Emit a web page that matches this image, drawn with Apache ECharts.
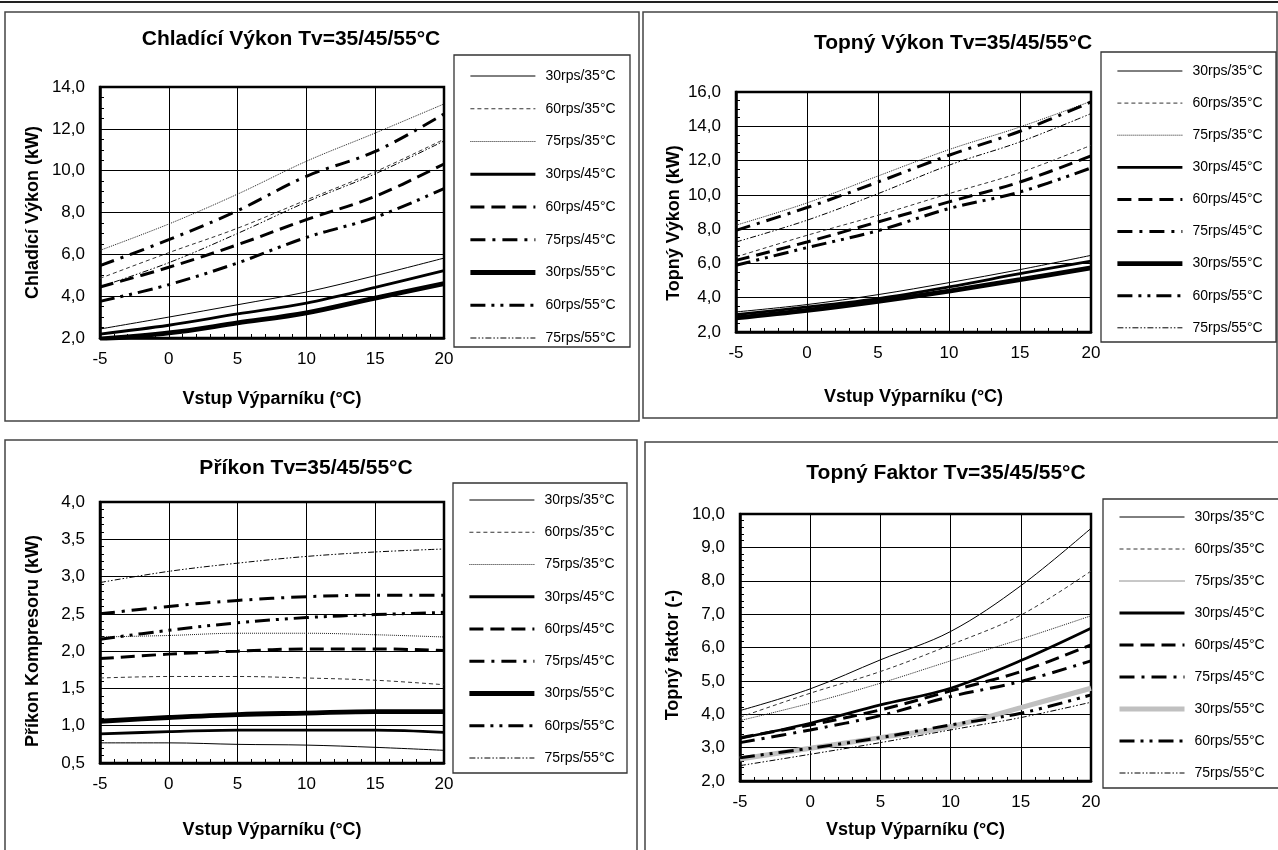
<!DOCTYPE html>
<html><head><meta charset="utf-8">
<script src="https://cdn.jsdelivr.net/npm/echarts@6/dist/echarts.min.js"></script>
<style>
html,body{margin:0;padding:0;background:#fff;}
.c{position:absolute;left:0;top:0;width:1278px;height:850px;}
</style></head><body>
<div id="c1" class="c"></div>
<div id="c2" class="c"></div>
<div id="c3" class="c"></div>
<div id="c4" class="c"></div>
<script>
// ---------- DATA ----------
const xTemps = [-5, 0, 5, 10, 15, 20];
const legendNames = ['30rps/35°C','60rps/35°C','75rps/35°C','30rps/45°C','60rps/45°C','75rps/45°C','30rps/55°C','60rps/55°C','75rps/55°C'];

// Chladící výkon (kW)
const chl30_35 = [2.43, 3.00, 3.59, 4.20, 4.98, 5.82];
const chl60_35 = [4.85, 6.08, 7.25, 8.60, 9.95, 11.50];
const chl75_35 = [6.19, 7.45, 8.88, 10.45, 11.80, 13.19];
const chl30_45 = [2.19, 2.61, 3.15, 3.67, 4.42, 5.22];
const chl60_45 = [4.44, 5.38, 6.46, 7.66, 8.77, 10.32];
const chl75_45 = [5.46, 6.70, 8.09, 9.73, 10.92, 12.71];
const chl30_55 = [1.95, 2.24, 2.72, 3.20, 3.91, 4.60];
const chl60_55 = [3.75, 4.55, 5.59, 6.81, 7.77, 9.14];
const chl75_55 = [4.45, 5.60, 7.00, 8.50, 9.85, 11.42];

// Topný výkon (kW)
const top30_35 = [3.17, 3.60, 4.18, 4.88, 5.64, 6.47];
const top60_35 = [6.38, 7.64, 8.81, 10.07, 11.30, 12.89];
const top75_35 = [8.23, 9.53, 11.10, 12.64, 13.96, 15.46];
const top30_45 = [3.01, 3.46, 3.95, 4.63, 5.40, 6.14];
const top60_45 = [6.18, 7.25, 8.42, 9.59, 10.75, 12.27];
const top75_45 = [7.93, 9.26, 10.75, 12.31, 13.71, 15.42];
const top30_55 = [2.82, 3.26, 3.79, 4.39, 5.05, 5.74];
const top60_55 = [5.89, 6.92, 7.91, 9.20, 10.17, 11.57];
const top75_55 = [7.25, 8.52, 10.07, 11.73, 13.09, 14.74];

// Příkon kompresoru (kW)
const pri30_35 = [0.77, 0.77, 0.75, 0.74, 0.71, 0.67];
const pri60_35 = [1.64, 1.66, 1.66, 1.64, 1.61, 1.55];
const pri75_35 = [2.19, 2.21, 2.24, 2.24, 2.22, 2.19];
const pri30_45 = [0.89, 0.92, 0.94, 0.94, 0.94, 0.91];
const pri60_45 = [1.90, 1.96, 2.00, 2.03, 2.03, 2.01];
const pri75_45 = [2.50, 2.60, 2.68, 2.73, 2.75, 2.75];
const pri30_55 = [1.06, 1.11, 1.15, 1.17, 1.19, 1.19];
const pri60_55 = [2.16, 2.28, 2.38, 2.45, 2.49, 2.52];
const pri75_55 = [2.92, 3.07, 3.18, 3.27, 3.33, 3.37];

// Topný faktor (-)
const fak30_35 = [4.11, 4.76, 5.63, 6.48, 7.85, 9.57];
const fak60_35 = [3.91, 4.63, 5.28, 6.08, 6.97, 8.29];
const fak75_35 = [3.81, 4.33, 4.93, 5.60, 6.25, 6.95];
const fak30_45 = [3.28, 3.73, 4.28, 4.78, 5.61, 6.58];
const fak60_45 = [3.30, 3.68, 4.13, 4.70, 5.28, 6.08];
const fak75_45 = [3.15, 3.53, 3.96, 4.53, 4.98, 5.60];
const fak30_55 = [2.66, 2.98, 3.30, 3.63, 4.20, 4.78];
const fak60_55 = [2.70, 2.98, 3.30, 3.68, 4.03, 4.58];
const fak75_55 = [2.46, 2.80, 3.15, 3.53, 3.90, 4.36];

// ---------- STYLE ----------
const FONT = 'Arial, "Liberation Sans", Helvetica, sans-serif';
const lineStyles = [
  {width:1,   type:'solid', color:'#000'},
  {width:1,   type:[4,3], color:'#333'},
  {width:1,   type:[1,1], color:'#222'},
  {width:2.8, type:'solid', color:'#000'},
  {width:3,   type:[14,7], color:'#000'},
  {width:3,   type:[15,7,3,7], color:'#000'},
  {width:4.8, type:'solid', color:'#000'},
  {width:3,   type:[15,6,3,6,3,6], color:'#000'},
  {width:1,   type:[6,2,1.5,2,1.5,2], color:'#000'}
];
const fmt = v => v.toFixed(1).replace('.', ',');

const panels = [
  { id:'c1', title:'Chladící Výkon Tv=35/45/55°C', titleX:291, titleY:39,
    box:[5,12,634,409], legendBox:[454,55,176,292], legend:[468,69,18.75],
    grid:[100,87,344,251], yMin:2, yMax:14, yInt:2, yMinor:4,
    yName:'Chladící Výkon (kW)', yNameGap:58, yShift:0, xNameGap:52,
    series:[chl30_35,chl60_35,chl75_35,chl30_45,chl60_45,chl75_45,chl30_55,chl60_55,chl75_55],
    topLine:true },
  { id:'c2', title:'Topný Výkon Tv=35/45/55°C', titleX:953, titleY:43,
    box:[643,12,634,406], legendBox:[1101,52,175,290], legend:[1115,64,18.1],
    grid:[736,92,355,240], yMin:2, yMax:16, yInt:2, yMinor:4,
    yName:'Topný Výkon (kW)', yNameGap:53, yShift:22, xNameGap:56,
    series:[top30_35,top60_35,top75_35,top30_45,top60_45,top75_45,top30_55,top60_55,top75_55] },
  { id:'c3', title:'Příkon Tv=35/45/55°C', titleX:306, titleY:468,
    box:[5,440,632,420], legendBox:[453,483,174,290], legend:[467,493,18.25],
    grid:[100,502,344,261], yMin:0.5, yMax:4, yInt:0.5, yMinor:5,
    yName:'Příkon Kompresoru (kW)', yNameGap:58, yShift:17, xNameGap:58,
    series:[pri30_35,pri60_35,pri75_35,pri30_45,pri60_45,pri75_45,pri30_55,pri60_55,pri75_55] },
  { id:'c4', title:'Topný Faktor Tv=35/45/55°C', titleX:946, titleY:473,
    box:[645,442,640,420], legendBox:[1103,499,177,289], legend:[1117,510,18],
    grid:[740,514,351,267], yMin:2, yMax:10, yInt:1, yMinor:5,
    yName:'Topný faktor (-)', yNameGap:58, yShift:15, xNameGap:40,
    series:[fak30_35,fak60_35,fak75_35,fak30_45,fak60_45,fak75_45,fak30_55,fak60_55,fak75_55],
    override:{6:{color:'#c0c0c0', width:5}} }
];

function makeOption(p){
  const graphic = [
    {type:'rect', silent:true, shape:{x:p.box[0], y:p.box[1], width:p.box[2], height:p.box[3]}, style:{fill:'none', stroke:'#444', lineWidth:1.5}},
    {type:'rect', silent:true, shape:{x:p.legendBox[0], y:p.legendBox[1], width:p.legendBox[2], height:p.legendBox[3]}, style:{fill:'#fff', stroke:'#333', lineWidth:1.3}}
  ];
  if (p.topLine) graphic.push({type:'line', silent:true, shape:{x1:0,y1:2,x2:1278,y2:2}, style:{stroke:'#222', lineWidth:2}});
  const series = p.series.map((d,i) => {
    const ls = Object.assign({}, lineStyles[i], (p.override && p.override[i]) || {});
    return {
      type:'line', name:legendNames[i], symbol:'none', smooth:0.35,
      data: xTemps.map((x,j) => [x, d[j]]),
      lineStyle: ls, itemStyle:{color: ls.color}, emphasis:{disabled:true}
    };
  });
  return {
    animation:false, backgroundColor:'transparent',
    textStyle:{fontFamily:FONT},
    title:{ text:p.title, left:p.titleX, top:p.titleY, textAlign:'center', textVerticalAlign:'middle', padding:0,
      textStyle:{fontSize:21, fontWeight:'bold', color:'#000', fontFamily:FONT} },
    grid:{ left:p.grid[0], top:p.grid[1], width:p.grid[2], height:p.grid[3], show:true,
      borderColor:'#000', borderWidth:2.5, backgroundColor:'transparent', containLabel:false, outerBoundsMode:'none' },
    legend:{ orient:'vertical', left:p.legend[0], top:p.legend[1], itemGap:p.legend[2],
      itemWidth:65, itemHeight:14, padding:0, data:legendNames, selectedMode:false,
      itemStyle:{opacity:0}, lineStyle:{width:'inherit'},
      textStyle:{fontSize:14, color:'#000', fontFamily:FONT, padding:[0,0,0,5], lineHeight:14} },
    xAxis:{ type:'value', min:-5, max:20, interval:5,
      name:'Vstup Výparníku (°C)', nameLocation:'middle', nameGap:p.xNameGap,
      nameTextStyle:{fontSize:18, fontWeight:'bold', color:'#000', fontFamily:FONT},
      axisLine:{show:true, onZero:false, lineStyle:{color:'#000', width:2.5}},
      axisTick:{show:true, inside:true, length:4, lineStyle:{color:'#000'}},
      minorTick:{show:true, splitNumber:5, length:4, lineStyle:{color:'#000', width:1}},
      splitLine:{show:true, lineStyle:{color:'#000', width:1}},
      axisLabel:{fontSize:17, color:'#000', margin:13, fontFamily:FONT} },
    yAxis:{ type:'value', min:p.yMin, max:p.yMax, interval:p.yInt,
      name:p.yName, nameLocation:'middle', nameGap:p.yNameGap,
      nameTextStyle:{fontSize:18, fontWeight:'bold', color:'#000', fontFamily:FONT, padding:[0,p.yShift,0,0]},
      axisLine:{show:true, onZero:false, lineStyle:{color:'#000', width:2.5}},
      axisTick:{show:true, inside:true, length:4, lineStyle:{color:'#000'}},
      minorTick:{show:true, splitNumber:p.yMinor, length:4, lineStyle:{color:'#000', width:1}},
      splitLine:{show:true, lineStyle:{color:'#000', width:1}},
      axisLabel:{fontSize:17, color:'#000', margin:15, formatter:fmt, fontFamily:FONT} },
    graphic: graphic,
    series: series
  };
}

panels.forEach(p => {
  const chart = echarts.init(document.getElementById(p.id), null, {renderer:'canvas'});
  chart.setOption(makeOption(p));
});
</script>
</body></html>
